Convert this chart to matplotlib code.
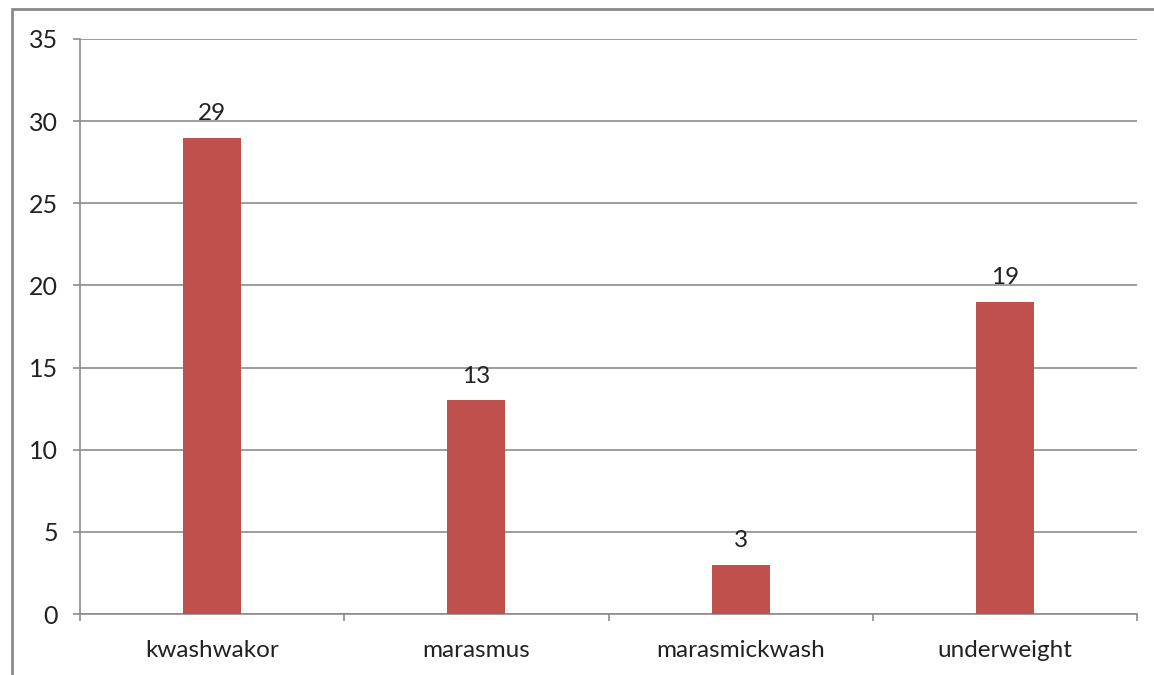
import numpy as np
import matplotlib.pyplot as plt
from matplotlib.patches import Rectangle

categories = ["kwashwakor", "marasmus", "marasmickwash", "underweight"]
values = [29, 13, 3, 19]

plt.rcParams['font.family'] = ['Lato', 'DejaVu Sans']

fig = plt.figure(figsize=(11.54, 6.75), dpi=100)
ax = fig.add_axes([80/1154, 1-614/675, 1057/1154, 575/675])

x = np.arange(len(categories))
bars = ax.bar(x, values, width=0.22, color="#C0504D", zorder=3)
for xi, v in zip(x, values):
    ax.annotate(str(v), (xi, v), xytext=(0, 10), textcoords="offset points",
                ha="center", va="bottom", fontsize=17.5, color="#222222")

ax.set_xlim(-0.5, len(categories) - 0.5)
ax.set_ylim(0, 35)
ax.set_yticks(np.arange(0, 36, 5))
ax.yaxis.grid(True, color="#8c8c8c", linewidth=1.2, zorder=0)

# category labels in the middle, tick marks between categories
ax.set_xticks(np.arange(-0.5, len(categories), 1.0))
ax.set_xticklabels([])
ax.set_xticks(x, minor=True)
ax.set_xticklabels(categories, minor=True, fontsize=17.5, color="#222222")
ax.tick_params(axis="x", which="minor", length=0, pad=19)
ax.tick_params(axis="x", which="major", length=5, color="#8c8c8c", width=1.2)
ax.tick_params(axis="y", length=5, color="#8c8c8c", width=1.2, labelsize=18,
               labelcolor="#222222", pad=11)

for s in ["top", "right"]:
    ax.spines[s].set_visible(False)
for s in ["left", "bottom"]:
    ax.spines[s].set_color("#8c8c8c")
    ax.spines[s].set_linewidth(1.2)

# outer chart border
fig.patches.append(Rectangle((12/1154, -0.1), 1.2, 1.1 - 9/675, transform=fig.transFigure,
                             fill=False, edgecolor="#8a8a8a", linewidth=2))

fig.savefig("out.png", dpi=100)
